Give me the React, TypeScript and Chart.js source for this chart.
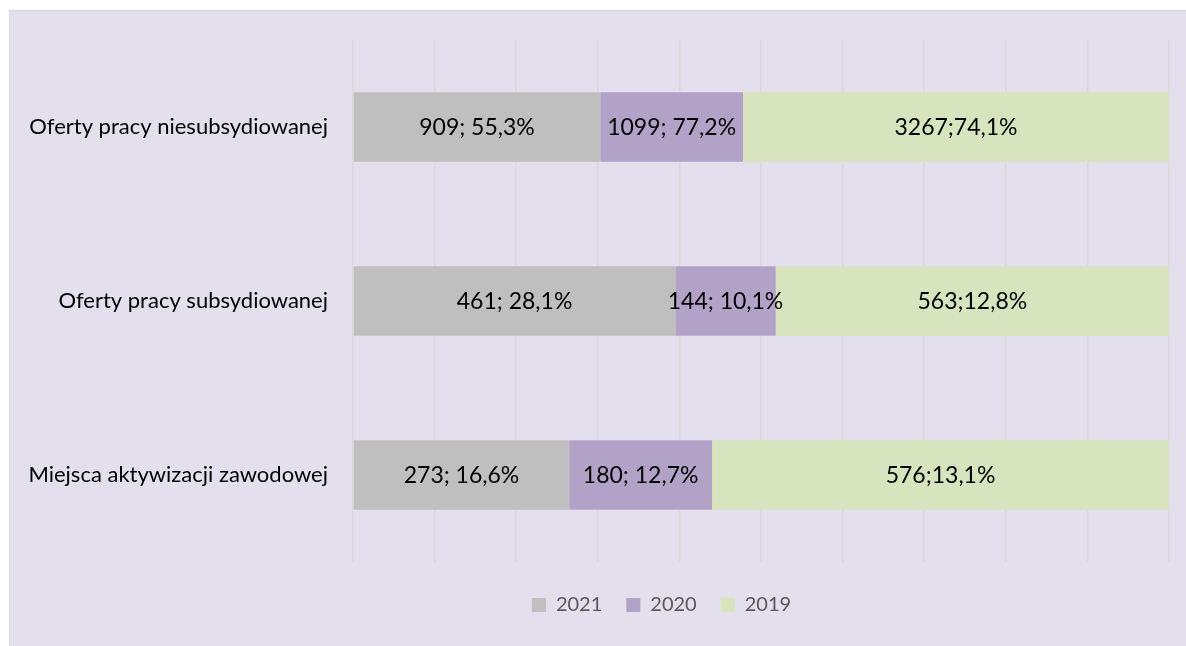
import React, { useEffect, useRef } from "react";
import { Chart, registerables } from "chart.js";

Chart.register(...registerables);

const categories = [
  "Oferty pracy niesubsydiowanej",
  "Oferty pracy subsydiowanej",
  "Miejsca aktywizacji zawodowej",
];
const seriesNames = ["2021", "2020", "2019"];
// share of each bar (percent of the bar length)
const share2021 = [30.3, 39.5, 26.5];
const share2020 = [17.5, 12.3, 17.5];
const share2019 = [52.2, 48.2, 56.0];
const labels2021 = ["909; 55,3%", "461; 28,1%", "273; 16,6%"];
const labels2020 = ["1099; 77,2%", "144; 10,1%", "180; 12,7%"];
const labels2019 = ["3267;74,1%", "563;12,8%", "576;13,1%"];
const colors = ["#bfbfbf", "#b3a2c7", "#d7e4bd"];
const xTicksMax = 100;
const xTickStep = 10;

const FONT = "Lato";

const segmentLabels = {
  id: "segmentLabels",
  afterDatasetsDraw(chart: any) {
    const ctx = chart.ctx;
    ctx.save();
    ctx.font = `23px ${FONT}`;
    ctx.fillStyle = "#000000";
    ctx.textAlign = "center";
    ctx.textBaseline = "middle";
    chart.data.datasets.forEach((ds: any, di: number) => {
      const meta = chart.getDatasetMeta(di);
      meta.data.forEach((el: any, i: number) => {
        const x = (el.x + el.base) / 2;
        ctx.fillText(ds.valueLabels[i], x, el.y + 1);
      });
    });
    ctx.restore();
  },
};

const legendShift = {
  id: "legendShift",
  afterLayout(chart: any) {
    const lg = chart.legend;
    if (lg) {
      lg.left += 72;
      lg.right += 72;
    }
  },
};

export default function App() {
  const ref = useRef<HTMLCanvasElement | null>(null);
  useEffect(() => {
    if (!ref.current) return;
    const chart = new Chart(ref.current, {
      type: "bar",
      data: {
        labels: categories,
        datasets: [
          { label: seriesNames[0], data: share2021, backgroundColor: colors[0], valueLabels: labels2021 } as any,
          { label: seriesNames[1], data: share2020, backgroundColor: colors[1], valueLabels: labels2020 } as any,
          { label: seriesNames[2], data: share2019, backgroundColor: colors[2], valueLabels: labels2019 } as any,
        ],
      },
      options: {
        indexAxis: "y",
        responsive: false,
        animation: false,
        layout: { padding: { left: 0, right: 17, top: 29, bottom: 21 } },
        datasets: { bar: { barPercentage: 0.4, categoryPercentage: 1, borderWidth: 0 } },
        scales: {
          x: {
            stacked: true,
            min: 0,
            max: xTicksMax,
            ticks: { display: false, stepSize: xTickStep },
            grid: { color: "#d9d9d9", lineWidth: 1.5, drawTicks: false },
            border: { display: false },
            afterFit: (s: any) => {
              s.height = 9;
              s.paddingLeft = 0;
              s.paddingRight = 0;
            },
          },
          y: {
            stacked: true,
            grid: { display: false, drawTicks: false },
            border: { display: false },
            ticks: { color: "#000000", font: { family: FONT, size: 22 }, padding: 25 },
            afterFit: (s: any) => {
              s.width = 343;
              s.paddingTop = 0;
              s.paddingBottom = 0;
            },
          },
        },
        plugins: {
          legend: {
            position: "bottom",
            labels: {
              boxWidth: 14,
              boxHeight: 14,
              padding: 24,
              color: "#595959",
              font: { family: FONT, size: 20 },
            },
          },
          tooltip: { enabled: false },
        },
      },
      plugins: [segmentLabels, legendShift],
    });
    return () => chart.destroy();
  }, []);

  return (
    <div
      style={{
        position: "absolute",
        left: 9,
        top: 10,
        width: 1177,
        height: 636,
        background: "#e4dfec",
        borderLeft: "1px solid #d9d9d9",
        borderTop: "1px solid #d9d9d9",
        overflow: "hidden",
        boxSizing: "border-box",
      }}
    >
      <canvas ref={ref} width={1176} height={635} style={{ display: "block" }} />
    </div>
  );
}
